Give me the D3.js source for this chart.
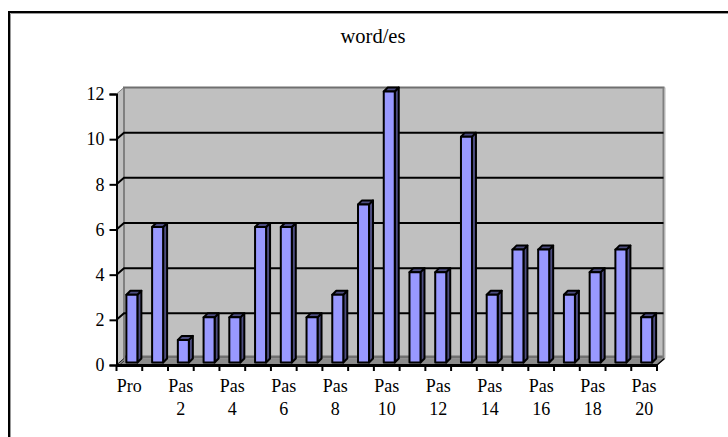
<!DOCTYPE html>
<html><head><meta charset="utf-8"><script src="https://cdn.jsdelivr.net/npm/d3@7"></script>
<style>html,body{margin:0;padding:0;background:#fff;overflow:hidden}svg{display:block}text{font-family:"Liberation Serif",serif;font-size:18px;fill:#000}</style></head><body>
<svg id="c" width="728" height="437"></svg>
<script>
const categories=["Pro","Pas 1","Pas 2","Pas 3","Pas 4","Pas 5","Pas 6","Pas 7","Pas 8","Pas 9","Pas 10","Pas 11","Pas 12","Pas 13","Pas 14","Pas 15","Pas 16","Pas 17","Pas 18","Pas 19","Pas 20"];
const values=[3,6,1,2,2,6,6,2,3,7,12,4,4,10,3,5,5,3,4,5,2];
const yTicks=[0,2,4,6,8,10,12];
const title="word/es";
const svg=d3.select("#c");
const L=116.5,R=657,B=365,T=94,dx=7.5,dy=6.5;
const x=d3.scaleBand().domain(categories).range([L,R]);
const y=d3.scaleLinear().domain([0,12]).range([B,T]);
// frame
svg.append("path").attr("d","M10.5,437V13.5H728").attr("fill","none").attr("stroke","#999").attr("stroke-width",1);
svg.append("path").attr("d","M9,437V12H728").attr("fill","none").attr("stroke","#000").attr("stroke-width",2);
svg.append("text").attr("x",373).attr("y",43).attr("text-anchor","middle").style("font-size","20.5px").text(title);
const poly=(pts,fill,stroke,w)=>svg.append("polygon").attr("points",pts.map(p=>p.join(",")).join(" ")).attr("fill",fill).attr("stroke",stroke||"none").attr("stroke-width",w||0);
// walls
poly([[L,T],[L+dx,T-dy],[L+dx,B-dy],[L,B]],"#c0c0c0","#808080",1);
poly([[L+dx,T-dy],[R+dx,T-dy],[R+dx,B-dy],[L+dx,B-dy]],"#c0c0c0");
poly([[L,B],[L+dx,B-dy],[R+dx,B-dy],[R,B]],"#8c8c8c");
svg.append("path").attr("d",`M${L+dx},${B-dy-1.5}H${R+dx-1}`).attr("stroke","#707070").attr("stroke-width",3);
svg.append("path").attr("d",`M${L+dx},${B-dy}V${T-dy-0.5}`).attr("stroke","#808080").attr("stroke-width",2);
svg.append("path").attr("d",`M${L+dx-1},${T-dy}H${R+dx}`).attr("stroke","#707070").attr("stroke-width",2);
svg.append("path").attr("d",`M${R+dx-1},${T-dy}V${B-dy}`).attr("stroke","#808080").attr("stroke-width",2);
svg.append("path").attr("d",`M${R+dx+.5},${T-dy}V${B-dy}L${R},${B}`).attr("stroke","#b8b8b8").attr("stroke-width",1).attr("fill","none");
// gridlines
yTicks.filter(t=>t>0&&t<12).forEach(t=>{
 svg.append("path").attr("d",`M${L},${y(t)}L${L+dx},${y(t)-dy}H${R+dx-1}`).attr("fill","none").attr("stroke","#000").attr("stroke-width",2);
});
svg.append("path").attr("d",`M${L},${B}L${L+dx},${B-dy}`).attr("stroke","#000").attr("stroke-width",.8);
svg.append("path").attr("d",`M${L+3},${B}L${L+dx},${B-4}`).attr("stroke","#000").attr("stroke-width",.6);
svg.append("path").attr("d",`M${R},${B}L${R+dx},${B-dy}`).attr("stroke","#000").attr("stroke-width",1.4);
// bars
const bw=11,depth=4,offX=2.5,offY=2.5;
const bars=svg.append("g").selectAll("g").data(categories.map((c,i)=>({c,v:values[i]}))).join("g");
bars.each(function(d){
 const g=d3.select(this);
 const x0=x(d.c)+x.bandwidth()/2+offX-bw/2, x1=x0+bw, t=y(d.v)-offY, b=B-offY;
 const pg=(pts,f)=>g.append("polygon").attr("points",pts.map(p=>p.join(",")).join(" ")).attr("fill",f).attr("stroke","#000").attr("stroke-width",2).attr("stroke-linejoin","round");
 pg([[x1,t],[x1+depth,t-depth],[x1+depth,b-depth],[x1,b]],"#4d4d80");
 pg([[x0,t],[x0+depth,t-depth],[x1+depth,t-depth],[x1,t]],"#4d4d80");
 pg([[x0,t],[x1,t],[x1,b],[x0,b]],"#9999ff");
});
// axes
const yAxis=d3.axisLeft(y).tickValues(yTicks).tickSize(7).tickPadding(5).tickFormat(d3.format("d"));
const yG=svg.append("g").attr("transform",`translate(${L},0)`).call(yAxis);
const xAxis=d3.axisBottom(x).tickValues([]).tickSize(0);
const xG=svg.append("g").attr("transform",`translate(0,${B})`).call(xAxis);
[yG,xG].forEach(g=>{g.selectAll("path").attr("stroke","#000").attr("stroke-width",2);g.selectAll("line").attr("stroke","#000").attr("stroke-width",2);});
xG.selectAll("path").attr("stroke-width",3);
yG.selectAll("text").style("font-size","18px").style("font-family","Liberation Serif");
categories.concat(["end"]).forEach((c,i)=>{
 const px=i<categories.length?x(c):R;
 svg.append("line").attr("x1",px).attr("x2",px).attr("y1",B).attr("y2",B+6).attr("stroke","#000").attr("stroke-width",2);
});
categories.forEach((c,i)=>{
 if(i%2)return;
 const parts=c.split(" ");
 const cx=x(c)+x.bandwidth()/2;
 const t=svg.append("text").attr("text-anchor","middle");
 parts.forEach((p,k)=>t.append("tspan").attr("x",cx).attr("y",392+k*23).text(p));
});
</script></body></html>
